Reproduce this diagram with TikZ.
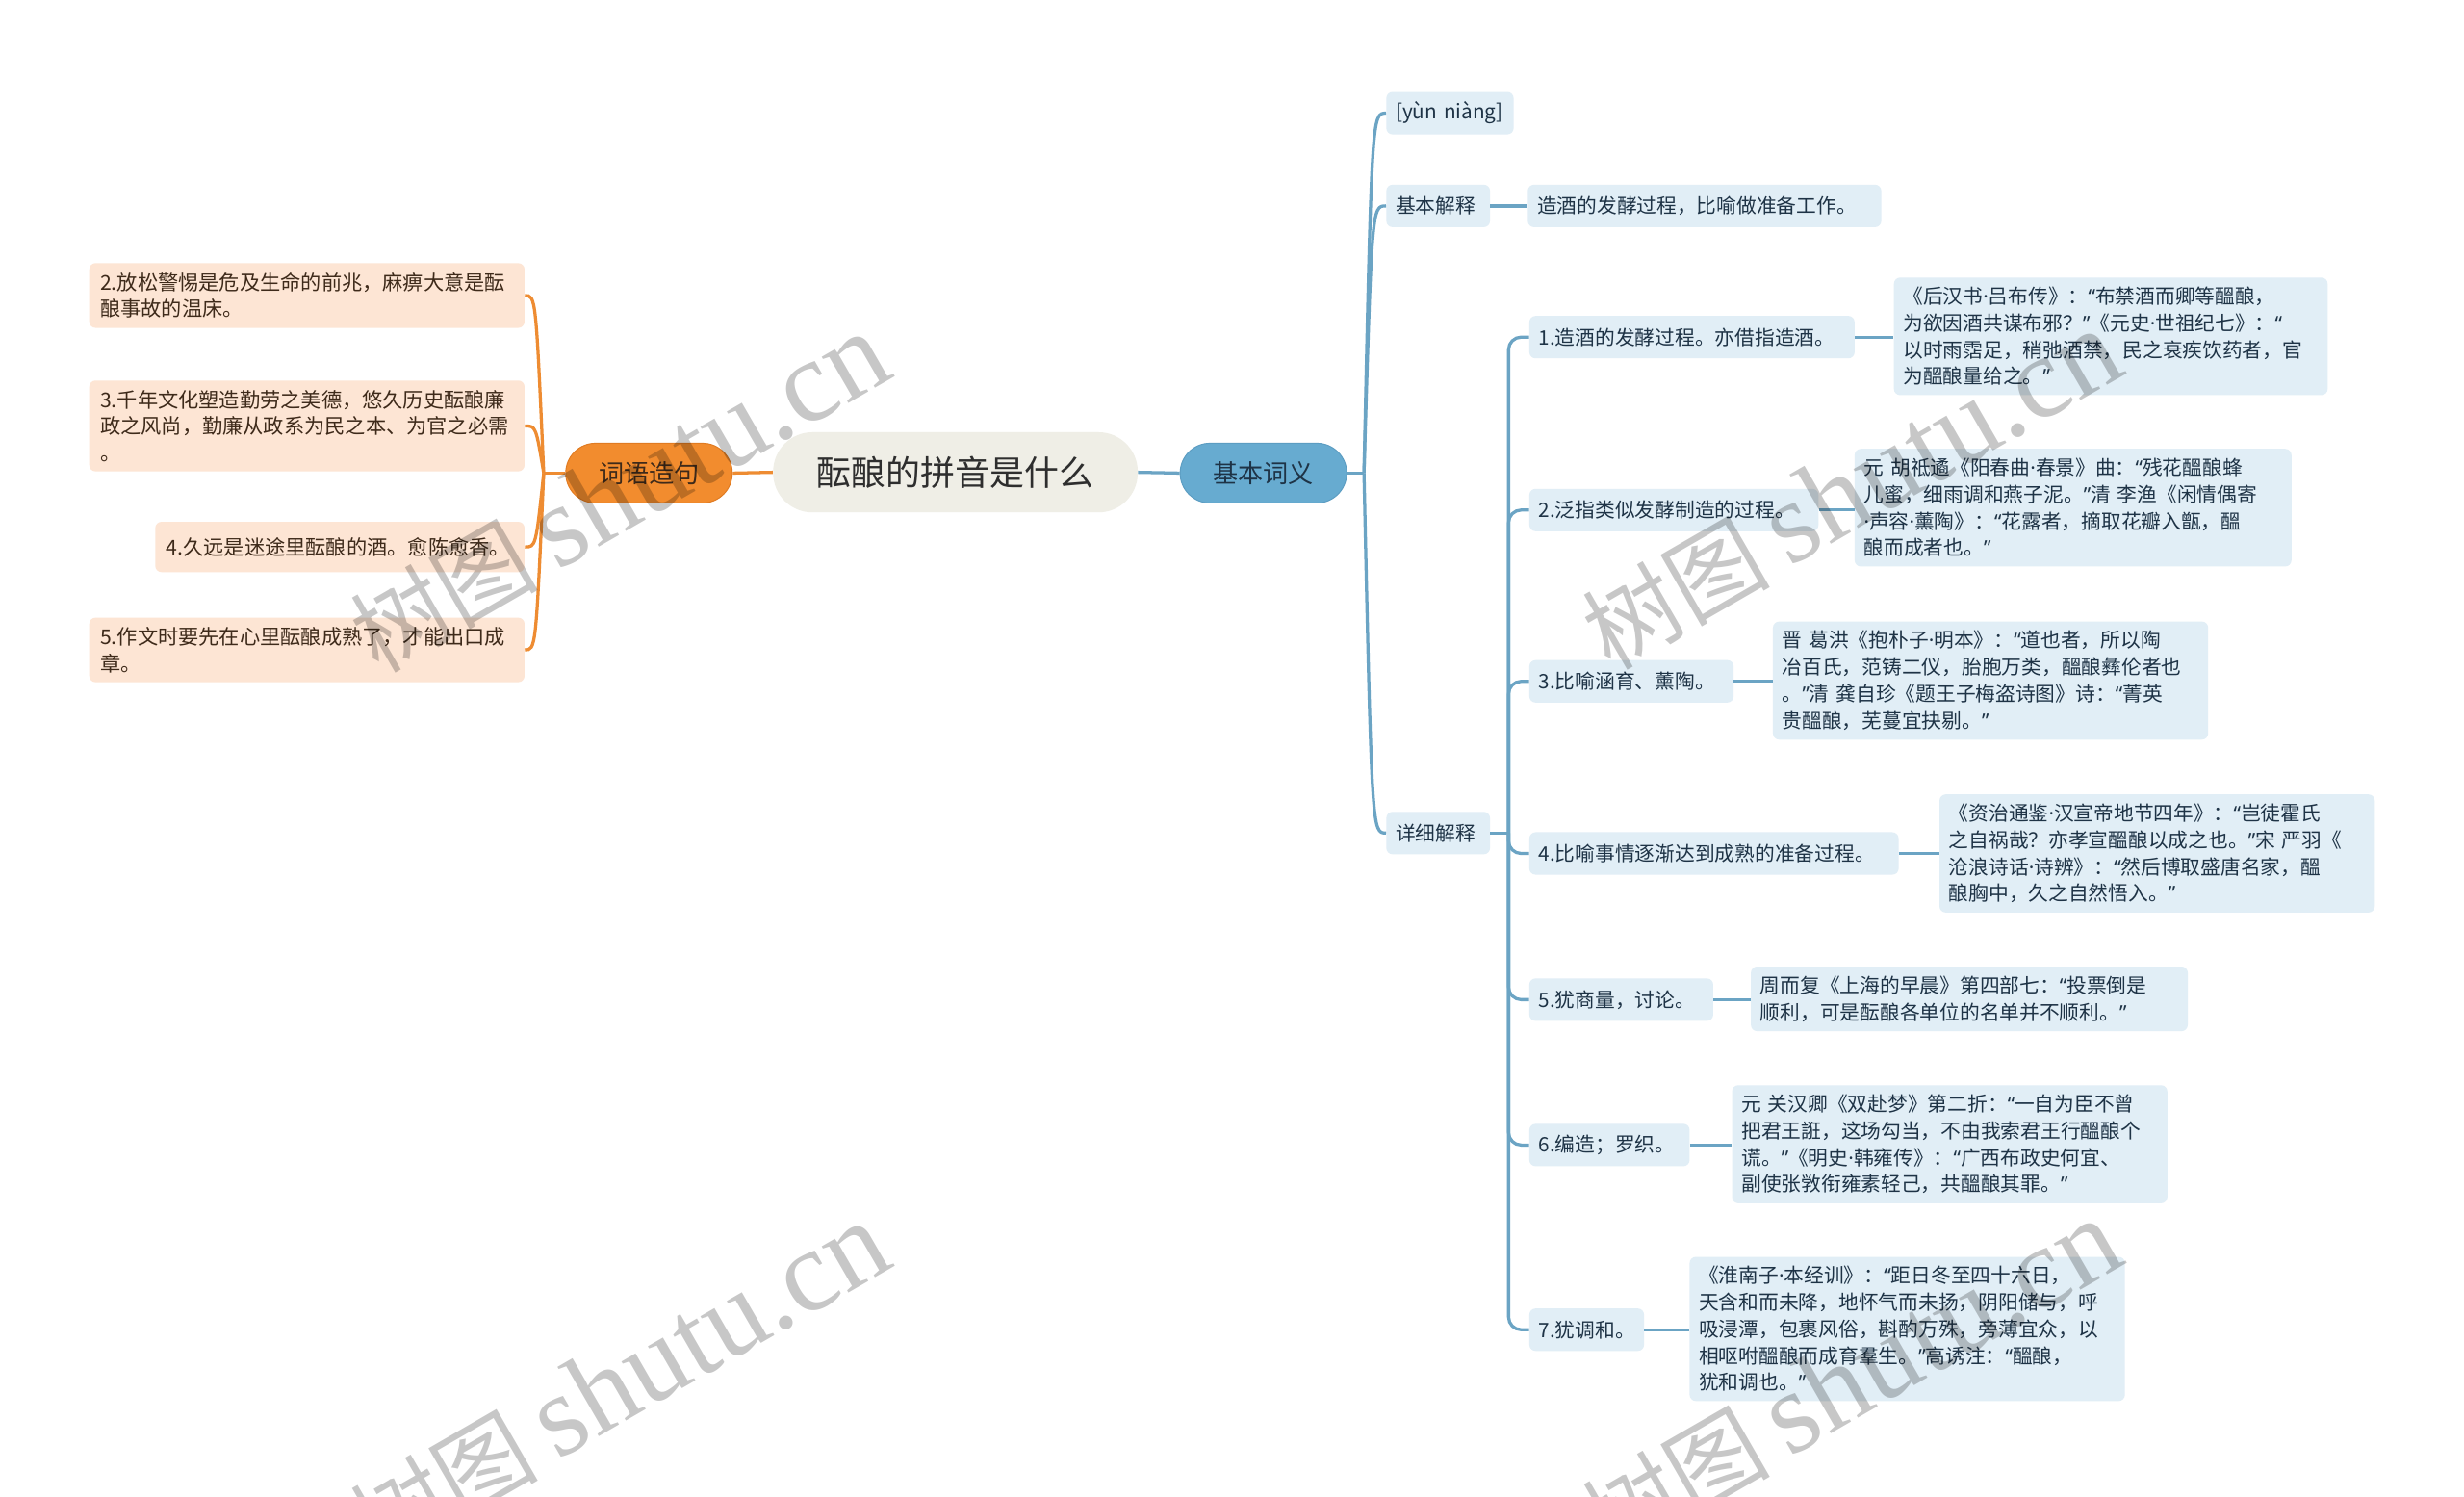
\documentclass[tikz,border=0pt]{standalone}
\usepackage{fontspec}
\setmainfont{Noto Sans CJK SC}
\newfontfamily\wmserif{Liberation Serif}
\newfontfamily\wmcjk{Noto Sans CJK SC}
\newfontfamily\latfont{Noto Sans}
\newcommand\LQ{{\latfont “}}
\newcommand\RQ{{\latfont ”}}
\newcommand\MD{{\latfont ·}}
\usetikzlibrary{calc}
\definecolor{rootfill}{HTML}{EFEEE6}
\definecolor{bluemain}{HTML}{67ABD0}
\definecolor{blueborder}{HTML}{5C9DC2}
\definecolor{blueline}{HTML}{6BA4C4}
\definecolor{leafblue}{HTML}{E1EEF6}
\definecolor{textblue}{HTML}{1E3346}
\definecolor{orangemain}{HTML}{F28C2E}
\definecolor{orangeborder}{HTML}{E07B22}
\definecolor{orangeline}{HTML}{EE8C32}
\definecolor{leaforange}{HTML}{FDE5D4}
\definecolor{textbrown}{HTML}{3E2A1A}
\tikzset{
  rootnode/.style={rectangle, rounded corners=25, fill=rootfill, minimum width=232, minimum height=51, inner sep=0, font=\fontsize{22}{26}\selectfont, text=black!82},
  mainblue/.style={rectangle, rounded corners=19, fill=bluemain, draw=blueborder, line width=0.6, minimum width=106, minimum height=38, inner sep=0, font=\fontsize{16}{19}\selectfont, text=textblue},
  mainorange/.style={rectangle, rounded corners=19, fill=orangemain, draw=orangeborder, line width=0.6, minimum width=106, minimum height=38, inner sep=0, font=\fontsize{16}{19}\selectfont, text=textbrown},
  leafR/.style={rectangle, rounded corners=4, fill=leafblue, text=textblue, inner xsep=6, inner ysep=6, minimum height=27, font=\fontsize{12.7}{17}\selectfont, align=left, anchor=west},
  leafL/.style={rectangle, rounded corners=4, fill=leaforange, text=textbrown, inner xsep=7, inner ysep=6, minimum height=32, font=\fontsize{13}{17}\selectfont, align=left, anchor=east},
  bline/.style={draw=blueline, line width=2},
  oline/.style={draw=orangeline, line width=2},
  wm/.style={rotate=30, text=black, text opacity=0.22, inner sep=0},
}
\begin{document}
\begin{tikzpicture}[x=1pt,y=-1pt]
\useasboundingbox (0,0) rectangle (1568,952);
\fill[white] (0,0) rectangle (1568,952);

% central nodes
\node[rootnode] (root) at (608,300.5) {酝酿的拼音是什么};
\node[mainblue] (jbcy) at (804,301) {基本词义};
\node[mainorange] (cyzj) at (413,301) {词语造句};

% right side level 2
\node[leafR, text width=69] (yun) at (882,72) {[yùn niàng]};
\node[leafR, text width=54] (jbjs) at (882,131) {基本解释};
\node[leafR, text width=213] (jbjsd) at (972,131) {造酒的发酵过程，比喻做准备工作。};
\node[leafR, text width=54] (xxjs) at (882,530) {详细解释};

% detailed items
\node[leafR, text width=195] (c1) at (973,214.5) {1.造酒的发酵过程。亦借指造酒。};
\node[leafR, text width=264] (d1) at (1205,214) {《后汉书\MD 吕布传》：\LQ 布禁酒而卿等醞酿，\\为欲因酒共谋布邪？\RQ《元史\MD 世祖纪七》：\LQ\\以时雨霑足，稍弛酒禁，民之衰疾饮药者，官\\为醞酿量给之。\RQ};

\node[leafR, text width=172] (c2) at (973,324.5) {2.泛指类似发酵制造的过程。};
\node[leafR, text width=266] (d2) at (1180,323) {元 胡祗遹《阳春曲\MD 春景》曲：\LQ 残花醞酿蜂\\儿蜜，细雨调和燕子泥。\RQ 清 李渔《闲情偶寄\\\MD 声容\MD 薰陶》：\LQ 花露者，摘取花瓣入甑，醞\\酿而成者也。\RQ};

\node[leafR, text width=118] (c3) at (973,433.5) {3.比喻涵育、薰陶。};
\node[leafR, text width=265] (d3) at (1128,433) {晋 葛洪《抱朴子\MD 明本》：\LQ 道也者，所以陶\\冶百氏，范铸二仪，胎胞万类，醞酿彝伦者也\\。\RQ 清 龚自珍《题王子梅盗诗图》诗：\LQ 菁英\\贵醞酿，芜蔓宜抉剔。\RQ};

\node[leafR, text width=223] (c4) at (973,543) {4.比喻事情逐渐达到成熟的准备过程。};
\node[leafR, text width=265] (d4) at (1234,543) {《资治通鉴\MD 汉宣帝地节四年》：\LQ 岂徒霍氏\\之自祸哉？亦孝宣醞酿以成之也。\RQ 宋 严羽《\\沧浪诗话\MD 诗辨》：\LQ 然后博取盛唐名家，醞\\酿胸中，久之自然悟入。\RQ};

\node[leafR, text width=105] (c5) at (973,636) {5.犹商量，讨论。};
\node[leafR, text width=266] (d5) at (1114,635.5) {周而复《上海的早晨》第四部七：\LQ 投票倒是\\顺利，可是酝酿各单位的名单并不顺利。\RQ};

\node[leafR, text width=90] (c6) at (973,728.5) {6.编造；罗织。};
\node[leafR, text width=265] (d6) at (1102,728) {元 关汉卿《双赴梦》第二折：\LQ 一自为臣不曾\\把君王誑，这场勾当，不由我索君王行醞酿个\\谎。\RQ《明史\MD 韩雍传》：\LQ 广西布政史何宜、\\副使张敩衔雍素轻己，共醞酿其罪。\RQ};

\node[leafR, text width=61] (c7) at (973,846) {7.犹调和。};
\node[leafR, text width=265] (d7) at (1075,845.5) {《淮南子\MD 本经训》：\LQ 距日冬至四十六日，\\天含和而未降，地怀气而未扬，阴阳储与，呼\\吸浸潭，包裹风俗，斟酌万殊，旁薄宜众，以\\相呕咐醞酿而成育羣生。\RQ 高诱注：\LQ 醞酿，\\犹和调也。\RQ};

% left leaves
\node[leafL, text width=263] (l2) at (334,188) {2.放松警惕是危及生命的前兆，麻痹大意是酝\\酿事故的温床。};
\node[leafL, text width=263] (l3) at (334,271) {3.千年文化塑造勤劳之美德，悠久历史酝酿廉\\政之风尚，勤廉从政系为民之本、为官之必需\\。};
\node[leafL, text width=221] (l4) at (334,348) {4.久远是迷途里酝酿的酒。愈陈愈香。};
\node[leafL, text width=263] (l5) at (334,413.5) {5.作文时要先在心里酝酿成熟了，才能出口成\\章。};

% junctions
\coordinate (J1) at (868,301);
\coordinate (J2) at (960,530);
\coordinate (J3) at (346,301);

% connectors right main
\draw[bline] (root.east) -- (jbcy.west);
\draw[bline] (jbcy.east) -- (J1);
\foreach \n in {yun,jbjs,xxjs}{
  \draw[bline] (J1) .. controls ($(J1|-\n.west)+(5,0)$) and ($(J1|-\n.west)+(5,0)$) .. (\n.west);
}
\draw[bline] (jbjs.east) -- (jbjs.east -| jbjsd.west);
\draw[bline] (xxjs.east) -- (J2);
\foreach \n in {c1,c2,c3,c4,c5,c6,c7}{
  \draw[bline, rounded corners=8] (J2) |- (\n.west);
}
\foreach \a/\b in {c1/d1,c2/d2,c3/d3,c4/d4,c5/d5,c6/d6,c7/d7}{
  \draw[bline] (\a.east) -- (\a.east -| \b.west);
}

% connectors left
\draw[oline] (root.west) -- (cyzj.east);
\draw[oline] (cyzj.west) -- (J3);
\foreach \n in {l2,l3,l4,l5}{
  \draw[oline] (J3) .. controls ($(J3|-\n.east)+(-5,0)$) and ($(J3|-\n.east)+(-5,0)$) .. (\n.east);
}

% watermarks
\begin{scope}
\clip (0,0) rectangle (1568,952);
\foreach \p in {(394,314),(1178,312),(394,880),(1178,878)}{
  \node[wm] at \p {\fontsize{60}{60}\wmcjk 树图\hspace{0.2em}\fontsize{74}{74}\wmserif shutu.cn};
}
\end{scope}
\end{tikzpicture}
\end{document}
